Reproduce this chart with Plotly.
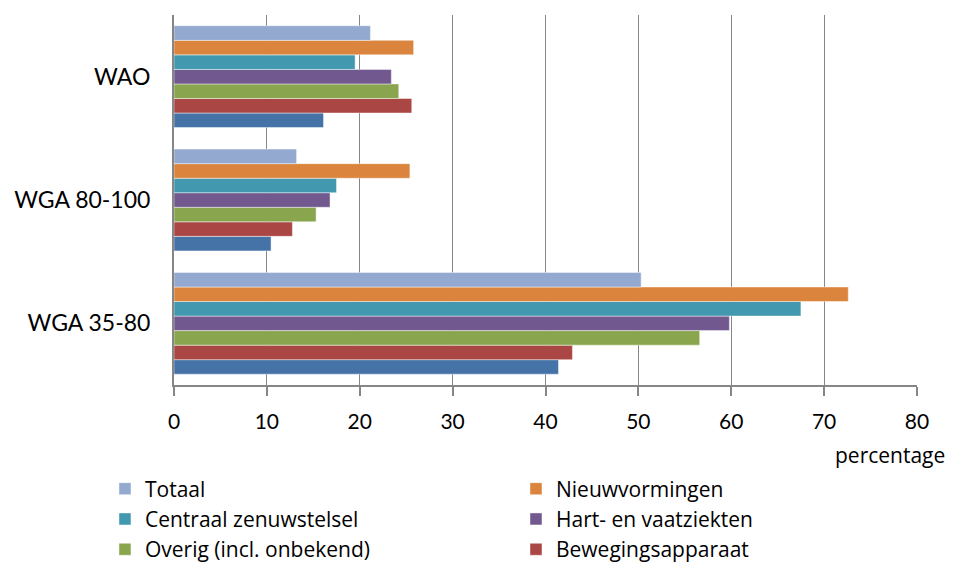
"""Horizontal grouped bar chart: percentage per regeling and diagnosegroep."""

import plotly.graph_objs as go  # type: ignore

# data
categories = ["WGA 35-80", "WGA 80-100", "WAO"]

psychische = [41.4, 10.45, 16.1]
bewegingsapparaat = [42.9, 12.75, 25.6]
overig = [56.6, 15.3, 24.2]
hart_vaat = [59.8, 16.8, 23.4]
centraal = [67.5, 17.5, 19.5]
nieuwvormingen = [72.6, 25.4, 25.8]
totaal = [50.3, 13.2, 21.15]

series_names = [
    "Psychische stoornissen",
    "Bewegingsapparaat",
    "Overig (incl. onbekend)",
    "Hart- en vaatziekten",
    "Centraal zenuwstelsel",
    "Nieuwvormingen",
    "Totaal",
]
series_values = [psychische, bewegingsapparaat, overig, hart_vaat,
                 centraal, nieuwvormingen, totaal]
series_colors = ["#4572A7", "#AA4643", "#89A54E", "#71588F",
                 "#4198AF", "#DB843D", "#93A9CF"]

x_ticks = [0, 10, 20, 30, 40, 50, 60, 70, 80]

FONT = "Lato, Calibri, Arial, sans-serif"
TEXT_FONT = "Open Sans, Calibri, Arial, sans-serif"
GRID = "#868686"


def plot_chart():
    fig = go.Figure()

    # first trace ends up at the bottom of each group
    for name, values, color in zip(series_names, series_values, series_colors):
        fig.add_trace(go.Bar(
            y=categories,
            x=values,
            name=name,
            orientation="h",
            marker=dict(color=color,
                        line=dict(color="rgba(255,255,255,0.45)", width=1)),
        ))

    # the page body adds 8px around the svg, so the figure is 8px smaller
    fig.update_layout(
        width=946,
        height=554,
        barmode="group",
        bargap=0.175,
        bargroupgap=0,
        plot_bgcolor="white",
        paper_bgcolor="white",
        font=dict(family=FONT, size=20, color="black"),
        margin=dict(l=166, r=37, t=7, b=177, autoexpand=False),
        legend=dict(
            orientation="h",
            traceorder="reversed",
            x=-0.0929,
            xanchor="left",
            y=-0.2257,
            yanchor="top",
            entrywidth=366,
            font=dict(family=TEXT_FONT, size=21, color="black"),
            bgcolor="rgba(0,0,0,0)",
        ),
        xaxis=dict(
            range=[0, 80],
            tickvals=x_ticks,
            showgrid=True,
            gridcolor=GRID,
            gridwidth=1,
            showline=True,
            linecolor=GRID,
            linewidth=1.5,
            ticks="outside",
            ticklen=9,
            tickcolor=GRID,
            tickwidth=1.5,
            ticklabelstandoff=8,
            tickfont=dict(family=FONT, size=21),
            zeroline=False,
        ),
        yaxis=dict(
            showgrid=False,
            showline=True,
            linecolor=GRID,
            linewidth=2,
            ticks="",
            ticklabelstandoff=17,
            tickfont=dict(family=FONT, size=23),
        ),
        annotations=[dict(
            text="percentage",
            xref="paper", yref="paper",
            x=1.04, y=-0.189,
            xanchor="right", yanchor="middle",
            showarrow=False,
            font=dict(family=TEXT_FONT, size=21),
        )],
    )

    fig.write_html("out.html")


plot_chart()
